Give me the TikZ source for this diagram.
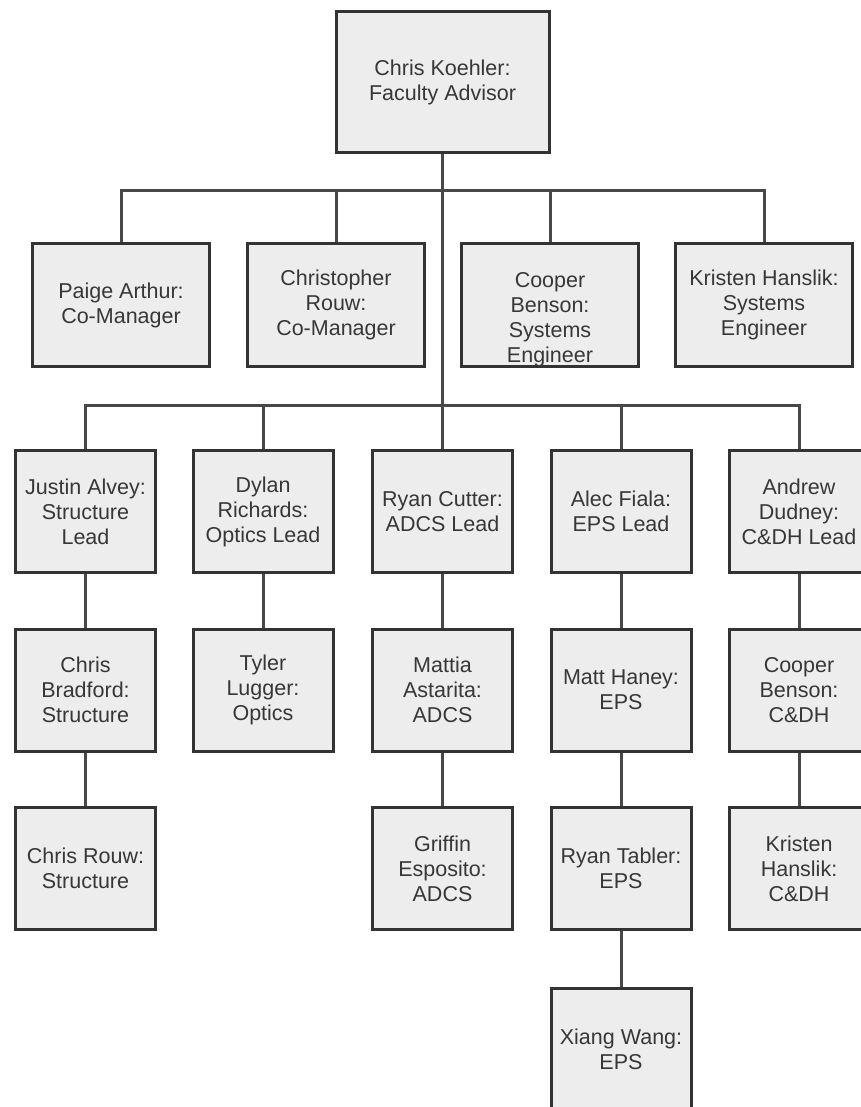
\documentclass[tikz,border=0pt]{standalone}
\usepackage{fontspec}
\setmainfont{Liberation Sans}
\usetikzlibrary{calc}
\definecolor{boxfill}{RGB}{237,237,237}
\definecolor{boxline}{RGB}{51,51,51}
\definecolor{connline}{RGB}{72,72,72}
\definecolor{txtcol}{RGB}{55,55,55}
\begin{document}
\begin{tikzpicture}[x=1pt,y=-1pt,
  box/.style={draw=boxline, line width=3pt, fill=boxfill, text=txtcol, align=center, inner sep=0pt, font=\fontsize{21.5}{25}\selectfont},
  topbox/.style={box, minimum width=213pt, minimum height=141pt},
  mgr/.style={box, minimum width=177pt, minimum height=123pt},
  team/.style={box, minimum width=140pt, minimum height=122pt},
  lbl/.style={text=txtcol, align=center, inner sep=0pt, font=\fontsize{21.5}{25}\selectfont},
  conn/.style={draw=connline, line width=3pt}]
\fill[white] (0,0) rectangle (860,1107);
\useasboundingbox (0,0) rectangle (860,1107);

% bus coordinates
\coordinate (b2) at (442.5,191);
\coordinate (b3) at (442.5,405);

\node[topbox] (top) at (442.5,82) {Chris Koehler:\\Faculty Advisor};

\node[mgr] (m1) at (121,305) {Paige Arthur:\\Co-Manager};
\node[mgr] (m2) at (336,305) {Christopher\\Rouw:\\Co-Manager};
\node[mgr] (m3) at (550,305) {};
\node[mgr] (m4) at (764,305) {Kristen Hanslik:\\Systems\\Engineer};

\node[team] (r1) at (85.5,511.5) {Justin Alvey:\\Structure\\Lead};
\node[team] (r2) at (263,511.5) {Dylan\\Richards:\\Optics Lead};
\node[team] (r3) at (442.5,511.5) {Ryan Cutter:\\ADCS Lead};
\node[team] (r4) at (621,511.5) {Alec Fiala:\\EPS Lead};
\node[team] (r5) at (799,511.5) {Andrew\\Dudney:\\C\&DH Lead};

\node[team] (s1) at (85.5,690) {Chris\\Bradford:\\Structure};
\node[team] (s2) at (263,690) {Tyler\\Lugger:\\Optics};
\node[team] (s3) at (442.5,690) {Mattia\\Astarita:\\ADCS};
\node[team] (s4) at (621,690) {Matt Haney:\\EPS};
\node[team] (s5) at (799,690) {Cooper\\Benson:\\C\&DH};

\node[team] (t1) at (85.5,868.5) {Chris Rouw:\\Structure};
\node[team] (t3) at (442.5,868.5) {Griffin\\Esposito:\\ADCS};
\node[team] (t4) at (621,868.5) {Ryan Tabler:\\EPS};
\node[team] (t5) at (799,868.5) {Kristen\\Hanslik:\\C\&DH};

\node[team] (u4) at (621,1049) {Xiang Wang:\\EPS};

% overflowing label of the Cooper Benson systems box
\node[lbl] (m3txt) at (550,320) {Cooper\\Benson:\\Systems\\Engineer};

% level 1 -> level 2
\draw[conn] (top.south) -- (b3);
\draw[conn] (m1.north) |- (b2) -| (m4.north);
\draw[conn] (m2.north) -- (m2.north |- b2);
\draw[conn] (m3.north) -- (m3.north |- b2);

% level 2 bus -> leads
\draw[conn] (r1.north) |- (b3) -| (r5.north);
\draw[conn] (r2.north) -- (r2.north |- b3);
\draw[conn] (r3.north) -- (b3);
\draw[conn] (r4.north) -- (r4.north |- b3);

% chains
\draw[conn] (r1.south) -- (s1.north);
\draw[conn] (s1.south) -- (t1.north);
\draw[conn] (r2.south) -- (s2.north);
\draw[conn] (r3.south) -- (s3.north);
\draw[conn] (s3.south) -- (t3.north);
\draw[conn] (r4.south) -- (s4.north);
\draw[conn] (s4.south) -- (t4.north);
\draw[conn] (t4.south) -- (u4.north);
\draw[conn] (r5.south) -- (s5.north);
\draw[conn] (s5.south) -- (t5.north);
\end{tikzpicture}
\end{document}
